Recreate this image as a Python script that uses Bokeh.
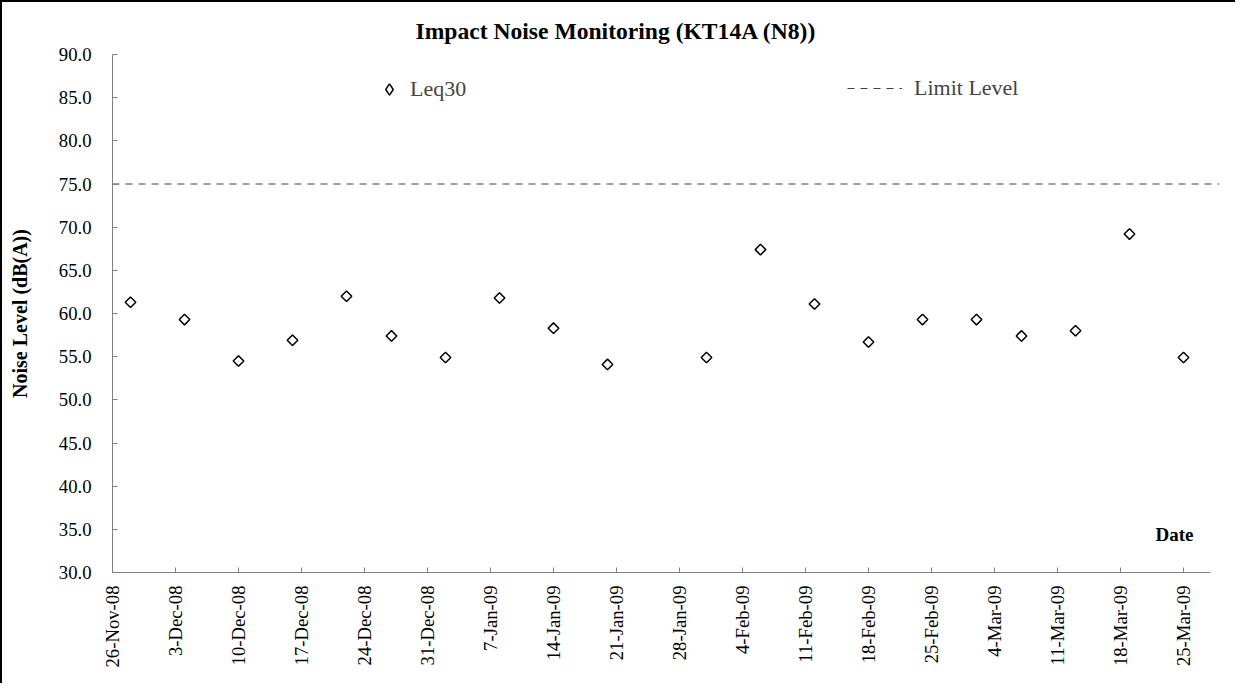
import numpy as np
import pandas as pd
from bokeh.plotting import figure
from bokeh.models import (FixedTicker, Range1d, Label, Legend, LegendItem,
                          NumeralTickFormatter)
from bokeh.embed import file_html
from bokeh.resources import INLINE

title_text = "Impact Noise Monitoring (KT14A (N8))"
y_label = "Noise Level (dB(A))"
x_label = "Date"
series_name = "Leq30"
limit_name = "Limit Level"

origin = "2008-11-26"
dates = ["2008-11-28", "2008-12-04", "2008-12-10", "2008-12-16", "2008-12-22",
         "2008-12-27", "2009-01-02", "2009-01-08", "2009-01-14", "2009-01-20",
         "2009-01-31", "2009-02-06", "2009-02-12", "2009-02-18", "2009-02-24",
         "2009-03-02", "2009-03-07", "2009-03-13", "2009-03-19", "2009-03-25"]
leq30 = [61.3, 59.3, 54.5, 56.9, 62.0, 57.4, 54.9, 61.8, 58.3, 54.1,
         54.9, 67.4, 61.1, 56.7, 59.3, 59.3, 57.4, 58.0, 69.2, 54.9]
limit_dates = ["2008-11-26", "2009-03-29"]
limit_level = [75.0, 75.0]
tick_dates = ["2008-11-26", "2008-12-03", "2008-12-10", "2008-12-17", "2008-12-24",
              "2008-12-31", "2009-01-07", "2009-01-14", "2009-01-21", "2009-01-28",
              "2009-02-04", "2009-02-11", "2009-02-18", "2009-02-25", "2009-03-04",
              "2009-03-11", "2009-03-18", "2009-03-25"]
tick_labels = ["26-Nov-08", "3-Dec-08", "10-Dec-08", "17-Dec-08", "24-Dec-08",
               "31-Dec-08", "7-Jan-09", "14-Jan-09", "21-Jan-09", "28-Jan-09",
               "4-Feb-09", "11-Feb-09", "18-Feb-09", "25-Feb-09", "4-Mar-09",
               "11-Mar-09", "18-Mar-09", "25-Mar-09"]
y_ticks = [30, 35, 40, 45, 50, 55, 60, 65, 70, 75, 80, 85, 90]
x_axis_end = "2009-03-28"
x_range_end = "2009-03-29"


def days(ds):
    return [int((pd.Timestamp(d) - pd.Timestamp(origin)).days) for d in ds]


x = days(dates)
lim_x = days(limit_dates)
tick_x = days(tick_dates)

FONT = "Liberation Serif"

p = figure(width=1235, height=683, output_backend="svg", toolbar_location=None,
           x_range=Range1d(0, days([x_range_end])[0]), y_range=Range1d(30, 90),
           min_border_left=110, min_border_right=18, min_border_top=52,
           min_border_bottom=113)
p.styles = {"border-top": "2px solid black", "border-left": "2px solid black"}
p.xgrid.visible = False
p.ygrid.visible = False
p.outline_line_color = None
p.background_fill_color = "white"
p.border_fill_color = "white"

p.title.text = title_text
p.title.align = "left"
p.title.offset = 303
p.title.standoff = 22
p.title.text_font = FONT
p.title.text_font_style = "bold"
p.title.text_font_size = "23.6px"
p.title.text_color = "black"

for ax in (p.xaxis[0], p.yaxis[0]):
    ax.axis_line_color = "#808080"
    ax.axis_line_width = 1
    ax.major_tick_line_color = "#808080"
    ax.major_tick_in = 5
    ax.major_tick_out = 0
    ax.minor_tick_line_color = None
    ax.major_label_text_font = FONT
    ax.major_label_text_font_size = "18.7px"
    ax.major_label_text_color = "black"

xa = p.xaxis[0]
xa.ticker = FixedTicker(ticks=tick_x)
xa.major_label_overrides = {t: l for t, l in zip(tick_x, tick_labels)}
xa.major_label_orientation = np.pi / 2
xa.major_label_standoff = 13
xa.bounds = (0, days([x_axis_end])[0])

ya = p.yaxis[0]
ya.ticker = FixedTicker(ticks=y_ticks)
ya.formatter = NumeralTickFormatter(format="0.0")
ya.major_label_standoff = 21
ya.axis_label = y_label
ya.axis_label_text_font = FONT
ya.axis_label_text_font_style = "bold"
ya.axis_label_text_font_size = "20px"
ya.axis_label_standoff = 25
ya.axis_label_text_color = "black"

r_lim = p.line(lim_x, limit_level, line_dash="7 6", line_color="#404040", line_width=1)
r_leq = p.scatter(x, leq30, marker="square", angle=np.pi / 4, size=7.5,
                  fill_color="white", line_color="black", line_width=1.5)
# legend proxy (legend glyphs ignore marker angle)
r_leq_key = p.scatter(x, leq30, marker="diamond", size=10, visible=False,
                      fill_color="white", line_color="black", line_width=1.5)

common = dict(orientation="horizontal", padding=0, margin=0, border_line_color=None,
              background_fill_alpha=0, label_text_font=FONT, label_text_font_size="22px",
              label_height=20, click_policy="none")
leg1 = Legend(items=[LegendItem(label=series_name, renderers=[r_leq_key])],
              location=(262, 469), glyph_width=30, glyph_height=28,
              label_standoff=6, **common)
leg2 = Legend(items=[LegendItem(label=limit_name, renderers=[r_lim])],
              location=(735, 471), glyph_width=55, glyph_height=20,
              label_standoff=12, **common)
p.add_layout(leg1, "center")
p.add_layout(leg2, "center")

p.add_layout(Label(x=118, y=34.4, text=x_label, text_align="center",
                   text_baseline="middle", text_font=FONT, text_font_style="bold",
                   text_font_size="19px", text_color="black"))

open("out.html", "w").write(file_html(p, INLINE))
